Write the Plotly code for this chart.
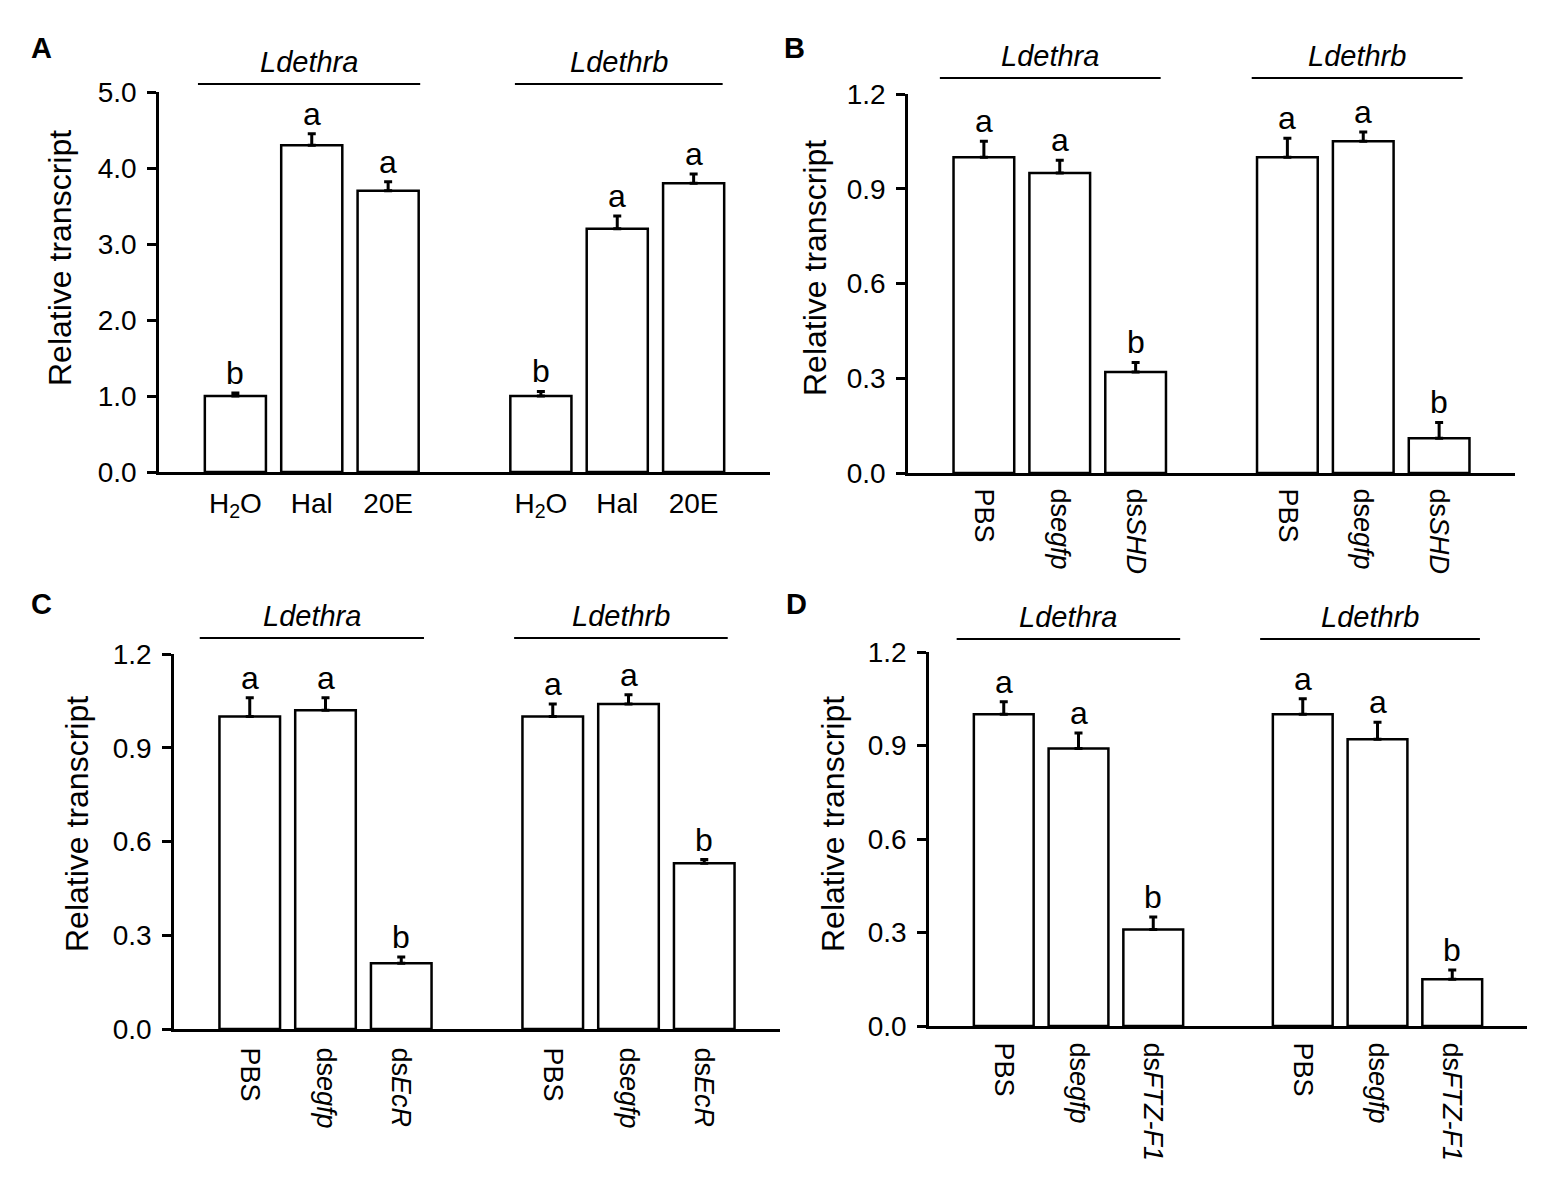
import plotly.graph_objects as go

# categories / data
groups = ['Ldethra', 'Ldethrb']
slots = [0, 1, 2, 4, 5, 6]

a_labels = ['H<sub>2</sub>O', 'Hal', '20E'] * 2
a_values = [1.0, 4.3, 3.7, 1.0, 3.2, 3.8]
a_errors = [0.04, 0.15, 0.12, 0.06, 0.17, 0.12]
a_letters = ['b', 'a', 'a', 'b', 'a', 'a']

b_labels = ['PBS', 'ds<i>egfp</i>', 'ds<i>SHD</i>'] * 2
b_values = [1.0, 0.95, 0.32, 1.0, 1.05, 0.11]
b_errors = [0.05, 0.04, 0.03, 0.06, 0.03, 0.05]
b_letters = ['a', 'a', 'b', 'a', 'a', 'b']

c_labels = ['PBS', 'ds<i>egfp</i>', 'ds<i>EcR</i>'] * 2
c_values = [1.0, 1.02, 0.21, 1.0, 1.04, 0.53]
c_errors = [0.06, 0.04, 0.02, 0.04, 0.03, 0.012]
c_letters = ['a', 'a', 'b', 'a', 'a', 'b']

d_labels = ['PBS', 'ds<i>egfp</i>', 'ds<i>FTZ-F1</i>'] * 2
d_values = [1.0, 0.89, 0.31, 1.0, 0.92, 0.15]
d_errors = [0.04, 0.05, 0.04, 0.05, 0.055, 0.03]
d_letters = ['a', 'a', 'b', 'a', 'a', 'b']

# page is 1562x1187, the body keeps its 8px margin
PAD = 8
W, H = 1562 - 2 * PAD, 1187 - 2 * PAD
FONT = 'Liberation Sans, Arial, sans-serif'


def px(x):
    return (x - PAD) / W


def py(y):
    return 1 - (y - PAD) / H


# page-pixel boxes of each panel: left, right, top, bottom of the axes
panels = [
    dict(tag='A', labels=a_labels, values=a_values, errors=a_errors, letters=a_letters,
         box=(159, 770, 92, 472), ymax=5.0, dtick=1.0, angle=0, standoff=4,
         title_xy=(60, 258), tag_xy=(41, 48), line_y=84,
         spans=[(-0.49, 2.42), (3.66, 6.38)]),
    dict(tag='B', labels=b_labels, values=b_values, errors=b_errors, letters=b_letters,
         box=(908, 1515, 94, 473), ymax=1.2, dtick=0.3, angle=90, standoff=7,
         title_xy=(815, 268), tag_xy=(794, 48), line_y=78,
         spans=[(-0.58, 2.33), (3.53, 6.31)]),
    dict(tag='C', labels=c_labels, values=c_values, errors=c_errors, letters=c_letters,
         box=(174, 780, 654, 1029), ymax=1.2, dtick=0.3, angle=90, standoff=10,
         title_xy=(77, 824), tag_xy=(41, 604), line_y=638,
         spans=[(-0.66, 2.30), (3.49, 6.31)]),
    dict(tag='D', labels=d_labels, values=d_values, errors=d_errors, letters=d_letters,
         box=(929, 1527, 652, 1026), ymax=1.2, dtick=0.3, angle=90, standoff=8,
         title_xy=(833, 824), tag_xy=(796, 604), line_y=639,
         spans=[(-0.63, 2.36), (3.43, 6.37)]),
]

fig = go.Figure()
layout = dict(width=W, height=H, margin=dict(l=0, r=0, t=0, b=0, autoexpand=False),
              plot_bgcolor='white', paper_bgcolor='white', showlegend=False)
shapes = []
annotations = []

for i, p in enumerate(panels):
    n = '' if i == 0 else str(i + 1)
    xr, yr = 'x' + n, 'y' + n
    x0, x1, top, bottom = p['box']

    fig.add_trace(go.Bar(
        x=slots, y=p['values'], width=0.8, xaxis=xr, yaxis=yr,
        marker=dict(color='white', line=dict(color='black', width=2.5)),
        error_y=dict(type='data', symmetric=False, array=p['errors'],
                     arrayminus=[0] * len(slots), color='black',
                     thickness=3, width=4),
        hoverinfo='skip'))

    layout['xaxis' + n] = dict(
        domain=[px(x0), px(x1)], anchor=yr, range=[-1, 7], automargin=False,
        tickvals=slots, ticktext=p['labels'], tickangle=p['angle'],
        ticks='', showline=True, linecolor='black', linewidth=3,
        showgrid=False, zeroline=False, ticklabelstandoff=p['standoff'],
        tickfont=dict(family=FONT, size=28 if p['angle'] == 0 else 27, color='black'))
    layout['yaxis' + n] = dict(
        domain=[py(bottom), py(top)], anchor=xr, range=[0, p['ymax']], automargin=False,
        dtick=p['dtick'], tick0=0, tickformat='.1f',
        ticks='outside', ticklen=9, tickwidth=2.5, tickcolor='black',
        showline=True, linecolor='black', linewidth=2.5,
        showgrid=False, zeroline=False, ticklabelstandoff=5,
        tickfont=dict(family=FONT, size=28, color='black'))

    # significance letters
    for s, v, e, t in zip(slots, p['values'], p['errors'], p['letters']):
        annotations.append(dict(
            x=s, y=v + e, xref=xr, yref=yr, text=t, showarrow=False,
            yanchor='bottom', yshift=0,
            font=dict(family=FONT, size=32, color='black')))

    # gene group lines and names
    for g, (s0, s1) in zip(groups, p['spans']):
        shapes.append(dict(type='line', xref=xr, yref='paper',
                           x0=s0, x1=s1, y0=py(p['line_y']), y1=py(p['line_y']),
                           line=dict(color='black', width=2)))
        annotations.append(dict(
            x=(s0 + s1) / 2, y=py(p['line_y'] - 4), xref=xr, yref='paper',
            text=g, showarrow=False, yanchor='bottom',
            font=dict(family=FONT, size=29, color='black', style='italic')))

    # axis title
    tx, ty = p['title_xy']
    annotations.append(dict(
        x=px(tx), y=py(ty), xref='paper', yref='paper', text='Relative transcript',
        textangle=-90, showarrow=False, xanchor='center', yanchor='middle',
        font=dict(family=FONT, size=32, color='black')))

    # panel tag
    lx, ly = p['tag_xy']
    annotations.append(dict(
        x=px(lx), y=py(ly), xref='paper', yref='paper', text=p['tag'],
        showarrow=False, xanchor='center', yanchor='middle',
        font=dict(family=FONT, size=29, color='black', weight='bold')))

layout['shapes'] = shapes
layout['annotations'] = annotations
fig.update_layout(**layout)

fig.write_html('out.html')
